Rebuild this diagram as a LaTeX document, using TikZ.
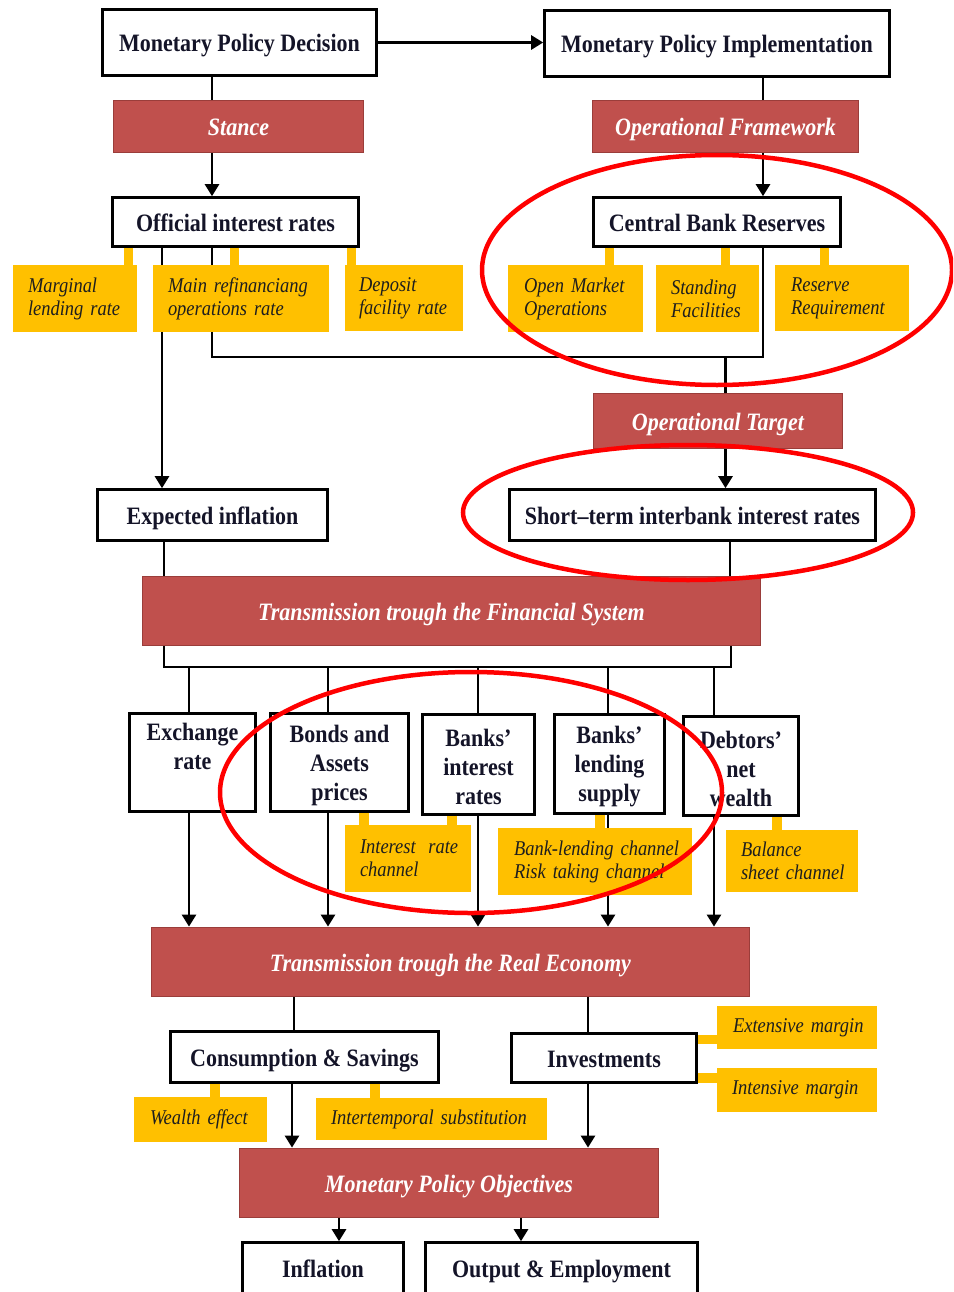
\documentclass[tikz,border=0pt]{standalone}
\usepackage{fontspec}
\setmainfont{Liberation Serif}[FakeStretch=0.88]
\usetikzlibrary{arrows.meta}
\definecolor{boxred}{HTML}{C0504D}
\definecolor{boxredline}{HTML}{9A3D3A}
\definecolor{ylw}{HTML}{FFC000}
\definecolor{ellred}{HTML}{FF0000}
\definecolor{ytext}{HTML}{1E1E1E}
\definecolor{wtext}{HTML}{141428}
\newcommand{\firstup}{\rule{0pt}{23pt}}
\begin{document}
\begin{tikzpicture}[x=1pt,y=-1pt,
  wbox/.style={draw=black, line width=2.6pt, fill=white, inner sep=0pt, text=wtext,
    font=\fontsize{25}{29}\selectfont\bfseries, align=center},
  wone/.style={wbox, text height=18pt, text depth=0pt},
  rbox/.style={draw=boxredline, line width=1.8pt, fill=boxred, inner sep=0pt, text=white,
    font=\fontsize{25}{29}\selectfont\bfseries\itshape, text height=18pt, text depth=0pt},
  ybox/.style={fill=ylw, inner ysep=0pt, text=ytext, align=left,
    font=\fontsize{21}{23}\selectfont\itshape,
    execute at begin node={\hyphenpenalty=10000\exhyphenpenalty=10000}},
  conn/.style={line width=2.6pt, draw=black},
  arr/.style={conn, -{Triangle[width=14pt,length=12pt]}},
  ytab/.style={draw=ylw, line width=9.5pt},
  ring/.style={draw=ellred, line width=4.5pt},
]
\useasboundingbox (0,0) rectangle (953,1292);
\fill[white] (0,0) rectangle (953,1292);
\clip (0,0) rectangle (953,1292);

% x positions of connectors
\foreach \v in {162,164,189,212,215,292,294,328,339,364,375,452,478,521,588,600,608,714,730,763,777}
  {\coordinate (c\v) at (\v,0);}
\coordinate (c128) at (128.5,0);
\coordinate (c234) at (234.5,0);
\coordinate (c351) at (351.5,0);
\coordinate (c609) at (609.5,0);
\coordinate (c725) at (725.5,0);
\coordinate (c824) at (824.5,0);
\coordinate (r1039) at (0,1039.5);
\coordinate (r1078) at (0,1078);

% white boxes
\node[wone, minimum width=274pt, minimum height=66pt] (dec) at (239.5,42.5) {Monetary Policy Decision};
\node[wone, minimum width=345pt, minimum height=66pt] (impl) at (717,43.5) {Monetary Policy Implementation};
\node[wone, minimum width=246pt, minimum height=49pt] (oir) at (235.5,222) {Official interest rates};
\node[wone, minimum width=247pt, minimum height=49pt] (cbr) at (717,222) {Central Bank Reserves};
\node[wone, minimum width=230pt, minimum height=51pt] (expinf) at (212.5,515) {Expected inflation};
\node[wone, minimum width=366pt, minimum height=51pt] (stir) at (692.5,515) {Short–term interbank interest rates};
\node[wbox, minimum width=126pt, minimum height=98pt] (exch) at (192.5,762.5) {\firstup Exchange\\rate\\\strut};
\node[wbox, minimum width=138pt, minimum height=98pt] (bonds) at (339.5,762.5) {\firstup Bonds and\\Assets\\prices};
\node[wbox, minimum width=112pt, minimum height=100pt] (bir) at (478.5,764.5) {\firstup Banks’\\interest\\rates};
\node[wbox, minimum width=110pt, minimum height=99pt] (bls) at (609.5,764) {\firstup Banks’\\lending\\supply};
\node[wbox, minimum width=115pt, minimum height=99pt] (dnw) at (741,766) {\firstup Debtors’\\net\\wealth};
\node[wone, minimum width=268pt, minimum height=51pt] (cons) at (304.5,1057) {Consumption \& Savings};
\node[wone, minimum width=185pt, minimum height=49pt] (inv) at (604,1058) {Investments};
\node[wone, minimum width=161pt, minimum height=52pt] (infl) at (323,1268.5) {Inflation};
\node[wone, minimum width=272pt, minimum height=52pt] (out) at (561.5,1268.5) {Output \& Employment};

% red boxes
\node[rbox, minimum width=250pt, minimum height=52pt] (stance) at (238.5,126.5) {Stance};
\node[rbox, minimum width=266pt, minimum height=52pt] (opfw) at (725.5,126.5) {Operational Framework};
\node[rbox, minimum width=249pt, minimum height=55pt] (optg) at (718,421) {Operational Target};
\node[rbox, minimum width=618pt, minimum height=69pt] (tfs) at (451.5,611) {Transmission trough the Financial System};
\node[rbox, minimum width=598pt, minimum height=69pt] (tre) at (450.5,962) {Transmission trough the Real Economy};
\node[rbox, minimum width=419pt, minimum height=69pt] (mpo) at (449,1183) {Monetary Policy Objectives};

% connectors
\draw[conn] (dec.south -| c212) -- (stance.north -| c212);
\draw[arr] (stance.south -| c212) -- (oir.north -| c212);
\draw[arr] (dec.east) -- (dec.east -| impl.west);
\draw[conn] (impl.south -| c763) -- (opfw.north -| c763);
\draw[arr] (opfw.south -| c763) -- (cbr.north -| c763);
\draw[arr] (oir.south -| c162) -- (expinf.north -| c162);
\coordinate (j1) at (763,357);
\draw[conn] (oir.south -| c212) |- (j1) -- (cbr.south -| j1);
\draw[conn] (j1 -| c725) -- (optg.north -| c725);
\draw[arr] (optg.south -| c725) -- (stir.north -| c725);
\draw[conn] (expinf.south -| c164) -- (tfs.north -| c164);
\draw[conn] (stir.south -| c730) -- (tfs.north -| c730);
\coordinate (j2) at (164,667);
\coordinate (j3) at (731,667);
\draw[conn] (tfs.south -| j2) -- (j2) -- (j3) -- (tfs.south -| j3);
\draw[conn] (j2 -| c189) -- (exch.north -| c189);
\draw[conn] (j2 -| c328) -- (bonds.north -| c328);
\draw[conn] (j2 -| c478) -- (bir.north -| c478);
\draw[conn] (j2 -| c608) -- (bls.north -| c608);
\draw[conn] (j2 -| c714) -- (dnw.north -| c714);
\draw[arr] (exch.south -| c189) -- (tre.north -| c189);
\draw[arr] (bonds.south -| c328) -- (tre.north -| c328);
\draw[arr] (bir.south -| c478) -- (tre.north -| c478);
\draw[arr] (bls.south -| c608) -- (tre.north -| c608);
\draw[arr] (dnw.south -| c714) -- (tre.north -| c714);
\draw[conn] (tre.south -| c294) -- (cons.north -| c294);
\draw[conn] (tre.south -| c588) -- (inv.north -| c588);
\draw[arr] (cons.south -| c292) -- (mpo.north -| c292);
\draw[arr] (inv.south -| c588) -- (mpo.north -| c588);
\draw[arr] (mpo.south -| c339) -- (infl.north -| c339);
\draw[arr] (mpo.south -| c521) -- (out.north -| c521);

% yellow boxes
\node[ybox, inner xsep=15pt, text width=94pt, minimum height=67pt] (mlr) at (75,298.5) {\mbox{Marginal}\\\mbox{lending rate}};
\node[ybox, inner xsep=15pt, text width=146pt, minimum height=67pt] (mro) at (241,298.5) {\mbox{Main refinanciang}\\\mbox{operations rate}};
\node[ybox, inner xsep=14pt, text width=90pt, minimum height=66pt] (dfr) at (404,298) {\mbox{Deposit}\\\mbox{facility rate}};
\node[ybox, inner xsep=16pt, text width=103pt, minimum height=67pt] (omo) at (575.5,298.5) {\mbox{Open Market}\\\mbox{Operations}};
\node[ybox, inner xsep=15pt, text width=73pt, minimum height=67pt] (sf) at (707.5,298.5) {\mbox{Standing}\\\mbox{Facilities}};
\node[ybox, inner xsep=16pt, text width=102pt, minimum height=66pt] (rr) at (842,298) {\mbox{Reserve}\\\mbox{Requirement}};
\node[ybox, inner xsep=15pt, text width=96pt, minimum height=67pt] (irc) at (408,858.5) {\mbox{Interest\hspace{0.6em}rate}\\\mbox{channel}};
\node[ybox, inner xsep=16pt, text width=162pt, minimum height=67pt] (blc) at (595,861.5) {\mbox{Bank-lending channel}\\\mbox{Risk taking channel}};
\node[ybox, inner xsep=15pt, text width=102pt, minimum height=62pt] (bsc) at (792,861) {\mbox{Balance}\\\mbox{sheet channel}};
\node[ybox, inner xsep=16pt, text width=128pt, minimum height=43pt] (ext) at (797,1027.5) {\mbox{Extensive margin}};
\node[ybox, inner xsep=15pt, text width=130pt, minimum height=44pt] (intm) at (797,1090) {\mbox{Intensive margin}};
\node[ybox, inner xsep=16pt, text width=101pt, minimum height=45pt] (we) at (200.5,1119.5) {\mbox{Wealth effect}};
\node[ybox, inner xsep=15pt, text width=201pt, minimum height=42pt] (its) at (431.5,1119) {\mbox{Intertemporal substitution}};

% yellow tabs
\draw[ytab] (oir.south -| c128) -- (mlr.north -| c128);
\draw[ytab] (oir.south -| c234) -- (mro.north -| c234);
\draw[ytab] (oir.south -| c351) -- (dfr.north -| c351);
\draw[ytab] (cbr.south -| c609) -- (omo.north -| c609);
\draw[ytab] (cbr.south -| c725) -- (sf.north -| c725);
\draw[ytab] (cbr.south -| c824) -- (rr.north -| c824);
\draw[ytab] (bonds.south -| c364) -- (irc.north -| c364);
\draw[ytab] (bir.south -| c452) -- (irc.north -| c452);
\draw[ytab] (bls.south -| c600) -- (blc.north -| c600);
\draw[ytab] (dnw.south -| c777) -- (bsc.north -| c777);
\draw[ytab] (inv.east |- r1039) -- (ext.west |- r1039);
\draw[ytab] (inv.east |- r1078) -- (intm.west |- r1078);
\draw[ytab] (cons.south -| c215) -- (we.north -| c215);
\draw[ytab] (cons.south -| c375) -- (its.north -| c375);

% red highlight ellipses
\draw[ring] (717,270) ellipse [x radius=235pt, y radius=115pt];
\draw[ring] (688,512.5) ellipse [x radius=225pt, y radius=67.5pt];
\draw[ring] (471,792.5) ellipse [x radius=251pt, y radius=120.5pt];
\end{tikzpicture}
\end{document}
